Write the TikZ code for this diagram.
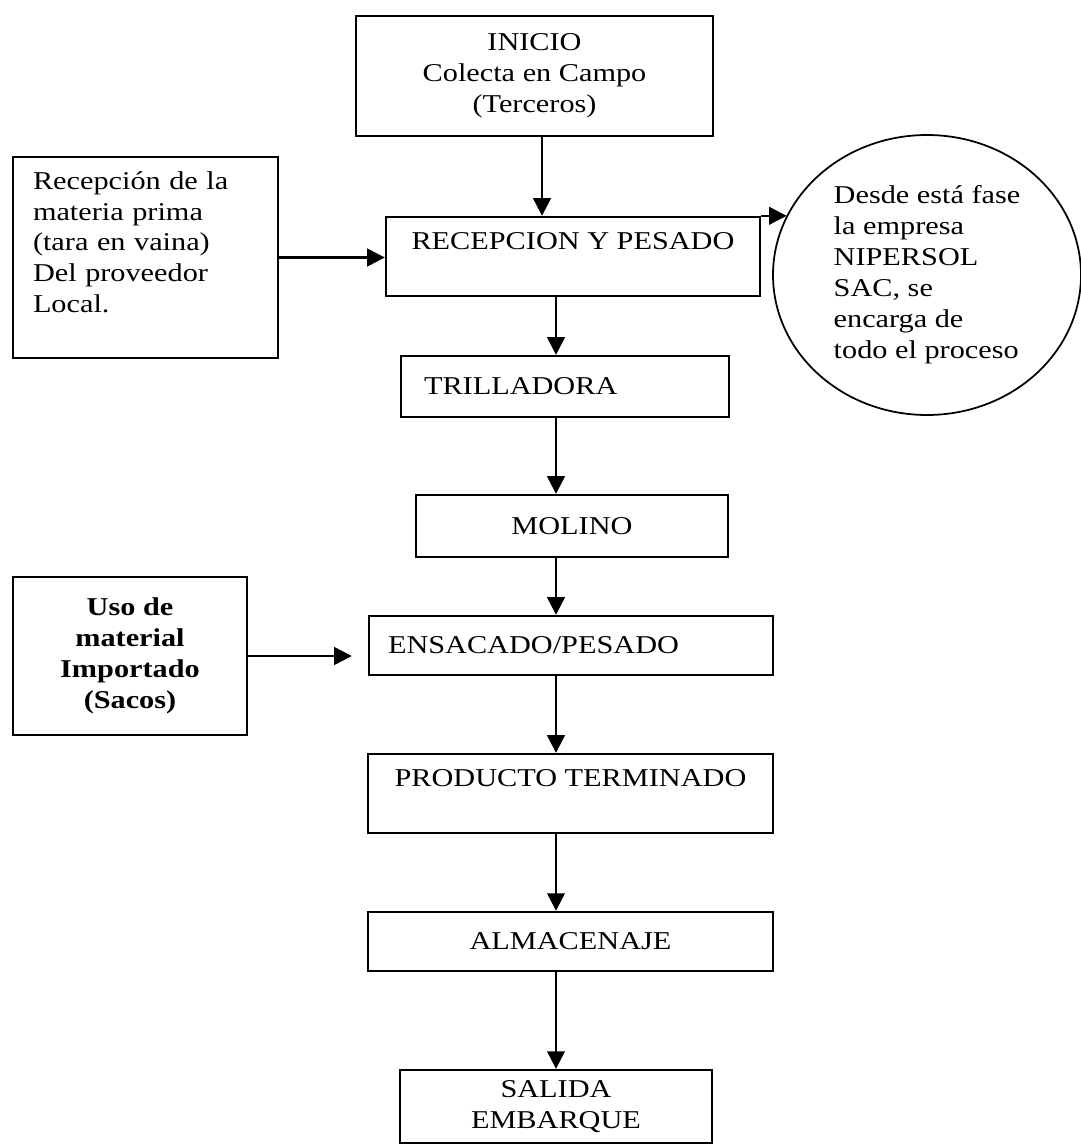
\documentclass[tikz,border=0pt]{standalone}
\usepackage{fontspec}
\setmainfont{Liberation Serif}[FakeStretch=1.18]
\usetikzlibrary{shapes.geometric}
\usetikzlibrary{arrows.meta}

\begin{document}
\begin{tikzpicture} [
    font=\fontsize{14.6pt}{17.6pt}\selectfont,
    proc/.style = {draw, line width=1.35pt, inner ysep=0pt, align=center},
    note/.style = {draw, ellipse, line width=1pt, inner sep=0pt, align=left,
                   minimum width=6.16cm, minimum height=5.6cm},
    flow/.style = {draw, line width=1.3pt, -{Triangle[length=10pt,width=10pt]}}
    ]
    \useasboundingbox (0,0) rectangle (21.6,-22.9);

    \node[proc, minimum width=7.14cm, minimum height=2.4cm] (inicio) at (10.69,-1.52)
        {INICIO\\Colecta en Campo\\(Terceros)};
    \node[proc, align=left, text width=4.5cm, inner xsep=0.4cm, minimum height=4.02cm] (prima) at (2.91,-5.15)
        {Recepción de la\\materia prima\\(tara en vaina)\\Del proveedor\\Local.\\ \mbox{}};
    \node[proc, minimum width=7.48cm, minimum height=1.58cm] (recep) at (11.46,-5.13)
        {RECEPCION Y PESADO\\ \mbox{}};
    \node[note] (nota) at (18.54,-5.5)
        {Desde está fase\\la empresa\\NIPERSOL\\SAC, se\\encarga de\\todo el proceso};
    \node[proc, align=left, text width=5.64cm, inner xsep=0.46cm, minimum height=1.22cm] (trilla) at (11.3,-7.73)
        {TRILLADORA};
    \node[proc, minimum width=6.24cm, minimum height=1.24cm] (molino) at (11.44,-10.52) {MOLINO};
    \node[proc, font=\fontsize{14.6pt}{17.6pt}\selectfont\bfseries,
          minimum width=4.68cm, minimum height=3.16cm] (sacos) at (2.6,-13.12)
        {Uso de\\material\\Importado\\(Sacos)};
    \node[proc, align=left, text width=7.32cm, inner xsep=0.38cm, minimum height=1.18cm] (ensac) at (11.42,-12.91)
        {ENSACADO/PESADO};
    \node[proc, minimum width=8.1cm, minimum height=1.58cm] (prod) at (11.41,-15.87)
        {PRODUCTO TERMINADO\\ \mbox{}};
    \node[proc, minimum width=8.1cm, minimum height=1.18cm] (almac) at (11.41,-18.83) {ALMACENAJE};
    \node[proc, minimum width=6.24cm, minimum height=1.46cm] (salida) at (11.12,-22.13)
        {SALIDA\\EMBARQUE};

    % the arrows
    \coordinate (feed) at (10.84,0);
    \coordinate (spine) at (11.12,0);
    \draw[flow] (inicio.south -| feed) -- (recep.north -| feed);
    \draw[flow] (prima.east) -- (prima.east -| recep.west);
    \draw[flow] (recep.north east) -- (recep.north east -| nota.157);
    \draw[flow] (sacos.east) -- ([xshift=-0.32cm]sacos.east -| ensac.west);
    \foreach \a/\b in {recep/trilla, trilla/molino, molino/ensac, ensac/prod, prod/almac, almac/salida}
        \draw[flow] (\a.south -| spine) -- (\b.north -| spine);
  \end{tikzpicture}
\end{document}
